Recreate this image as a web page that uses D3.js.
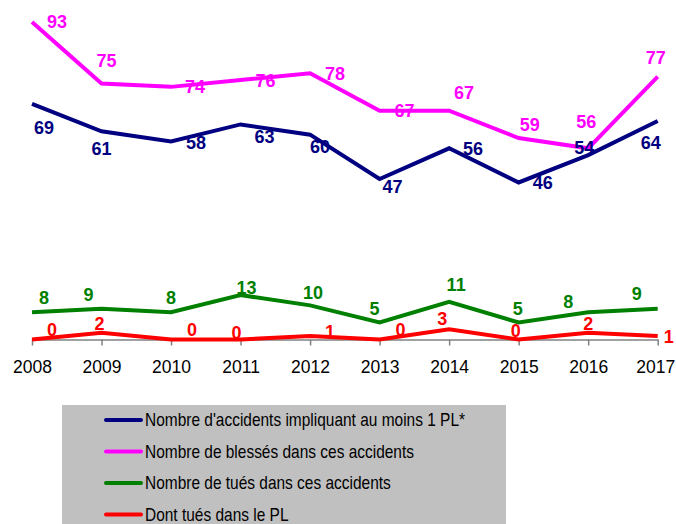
<!DOCTYPE html>
<html>
<head>
<meta charset="utf-8">
<script src="https://cdn.jsdelivr.net/npm/d3@7"></script>
<style>
  html, body { margin: 0; padding: 0; background: #fff; }
  svg { display: block; font-family: "Liberation Sans", Arial, sans-serif; }
</style>
</head>
<body>
<svg id="chart" width="676" height="524"></svg>
<script>
// Années
const years = [2008, 2009, 2010, 2011, 2012, 2013, 2014, 2015, 2016, 2017];

// Séries
const accidents = [69, 61, 58, 63, 60, 47, 56, 46, 54, 64];
const blesses   = [93, 75, 74, 76, 78, 67, 67, 59, 56, 77];
const tues      = [8, 9, 8, 13, 10, 5, 11, 5, 8, 9];
const tuesPL    = [0, 2, 0, 0, 1, 0, 3, 0, 2, 1];

const seriesNames = [
  "Nombre d'accidents impliquant au moins 1 PL*",
  "Nombre de blessés dans ces accidents",
  "Nombre de tués dans ces accidents",
  "Dont tués dans le PL"
];
const seriesColors = ["#000080", "#FF00FF", "#008000", "#FF0000"];

// Décalage des étiquettes de valeur (px) par rapport à chaque point
const labelOffsets = [
  [[12, 24], [0, 17], [25, 1], [24, 12], [10, 12], [13, 7], [24, 0], [24, 0], [-4, -8], [-7, 22]],
  [[25, 0], [5, -23], [24, 0], [25, 0], [25, 0], [25, 0], [15, -18], [11, -14], [-2, -27], [-2, -19]],
  [[12, -15], [-13, -14], [0, -15], [6, -8], [3, -13], [-5, -14], [7, -17], [-1, -14], [-20, -11], [-21, -15]],
  [[20, -10], [-2, -9], [21, -10], [-4, -7], [20, -5], [21, -10], [-7, -11], [-3, -9], [0, -9], [11, 0]]
];

const allSeries = [accidents, blesses, tues, tuesPL];

const svg = d3.select("#chart");

const x = d3.scalePoint().domain(years).range([32, 657.7]);
const y = d3.scaleLinear().domain([0, 93]).range([339.5, 22]);

// Axe des abscisses
const xAxis = d3.axisBottom(x).tickSize(6).tickPadding(15).tickSizeOuter(0);
const gx = svg.append("g")
  .attr("transform", `translate(0,${y(0)})`)
  .call(xAxis);
gx.select(".domain").attr("stroke", "#808080").attr("stroke-width", 1.5);
gx.selectAll(".tick line").attr("stroke", "#808080").attr("stroke-width", 1.5);
gx.selectAll(".tick text")
  .attr("fill", "#000")
  .style("font-size", "17.5px")
  .style("font-family", "'Liberation Sans', Arial, sans-serif");
// la dernière année reste dans le cadre
gx.selectAll(".tick text").filter(d => d === years[years.length - 1]).attr("dx", -2.5);

// Courbes
const line = d3.line()
  .x((d, i) => x(years[i]))
  .y(d => y(d));

allSeries.forEach((vals, s) => {
  svg.append("path")
    .datum(vals)
    .attr("fill", "none")
    .attr("stroke", seriesColors[s])
    .attr("stroke-width", 4)
    .attr("stroke-linejoin", "miter")
    .attr("d", line);
});

// Étiquettes de valeur
allSeries.forEach((vals, s) => {
  svg.append("g")
    .selectAll("text")
    .data(vals)
    .join("text")
    .attr("x", (d, i) => x(years[i]) + labelOffsets[s][i][0])
    .attr("y", (d, i) => y(d) + labelOffsets[s][i][1])
    .attr("dy", "0.36em")
    .attr("text-anchor", "middle")
    .attr("fill", seriesColors[s])
    .style("font-size", "18px")
    .style("font-weight", "bold")
    .text(d => d);
});

// Légende
const legend = svg.append("g");
legend.append("rect")
  .attr("x", 62).attr("y", 405)
  .attr("width", 444).attr("height", 130)
  .attr("fill", "#C0C0C0");

const rowY = d3.scaleLinear().domain([0, 3]).range([420, 514.5]);
const items = legend.selectAll("g.item")
  .data(seriesNames)
  .join("g")
  .attr("class", "item")
  .attr("transform", (d, i) => `translate(0,${rowY(i)})`);

items.append("line")
  .attr("x1", 106).attr("x2", 141)
  .attr("stroke", (d, i) => seriesColors[i])
  .attr("stroke-width", 4)
  .attr("stroke-linecap", "round");

// Police étroite : texte de 18px resserré horizontalement
items.append("text")
  .attr("transform", "translate(145,0) scale(0.86,1)")
  .attr("dy", "0.36em")
  .attr("fill", "#000")
  .style("font-size", "18px")
  .text(d => d);
</script>
</body>
</html>
